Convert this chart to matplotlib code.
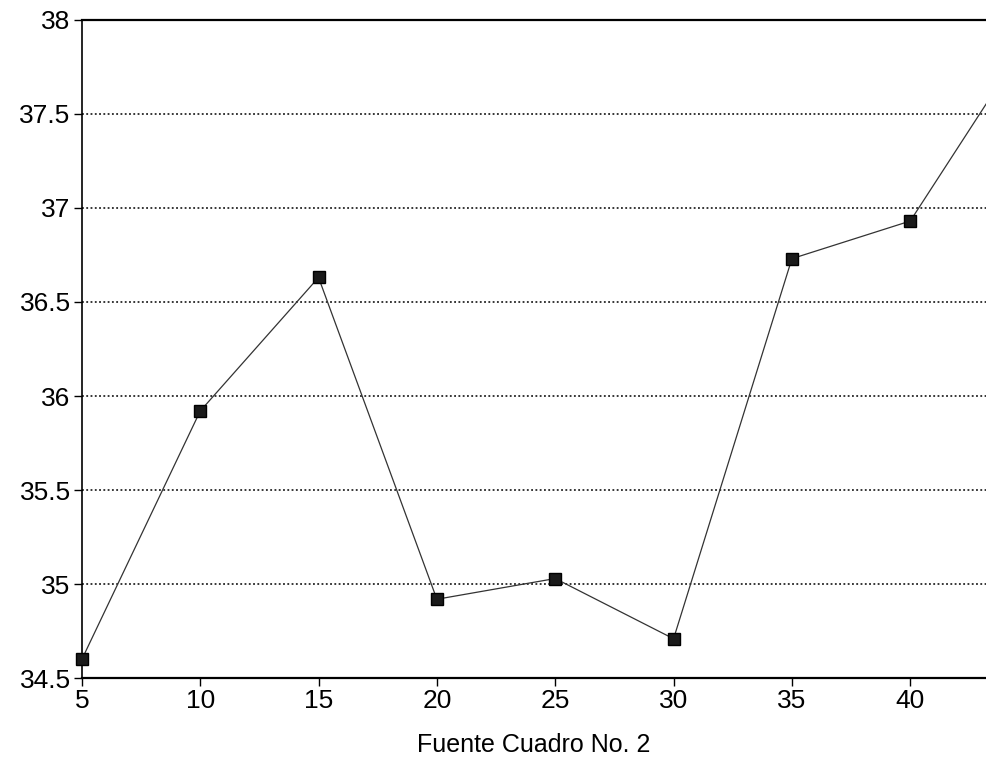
import numpy as np
from matplotlib import pyplot as plt

# valeurs
x_vals = [5, 10, 15, 20, 25, 30, 35, 40, 45]
y_vals = [34.6, 35.92, 36.63, 34.92, 35.03, 34.71, 36.73, 36.93, 37.9]

y_ticks = [34.5, 35, 35.5, 36, 36.5, 37, 37.5, 38]
y_labels = ["34.5", "35", "35.5", "36", "36.5", "37", "37.5", "38"]
x_ticks = [5, 10, 15, 20, 25, 30, 35, 40]
x_labels = ["5", "10", "15", "20", "25", "30", "35", "40"]

plt.rcParams['font.family'] = ['Liberation Sans', 'DejaVu Sans']

fig = plt.figure(figsize=(9.86, 7.57), dpi=100)
ax = fig.add_axes([0.083, 0.104, 0.917, 0.870])

# lignes de grille pointillées
for yv in y_ticks[1:-1]:
	ax.axhline(yv, color="black", linestyle=(0, (1.2, 1.6)), linewidth=1.1, zorder=1)

ax.plot(x_vals, y_vals, color="#333333", linewidth=0.9, marker="s", markersize=9,
		markerfacecolor="#1a1a1a", markeredgecolor="black", markeredgewidth=1.0,
		zorder=3, clip_on=False)

ax.set_xlim(5, 43.2)
ax.set_ylim(34.5, 38)

ax.set_yticks(y_ticks)
ax.set_yticklabels(y_labels)
ax.set_xticks(x_ticks)
ax.set_xticklabels(x_labels)
ax.tick_params(axis="both", labelsize=19, direction="out", length=6, width=1, pad=2)

ax.spines["right"].set_visible(False)
ax.spines["left"].set_linewidth(1.2)
ax.spines["top"].set_linewidth(1.6)
ax.spines["bottom"].set_linewidth(1.6)

ax.set_xlabel("Fuente Cuadro No. 2", fontsize=18, labelpad=14)

fig.savefig("out.png", dpi=100)
